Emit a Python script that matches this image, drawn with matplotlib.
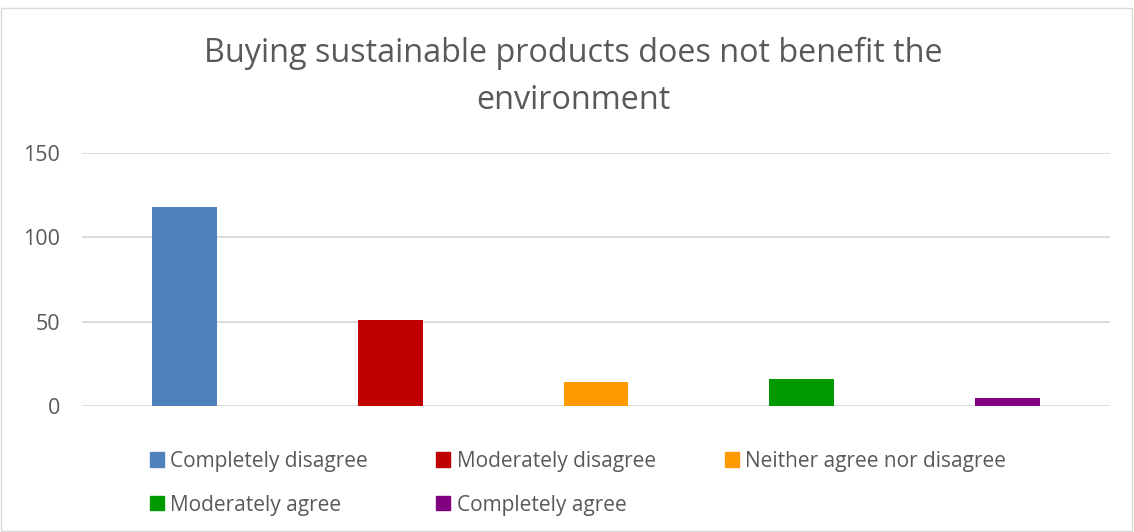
import matplotlib
matplotlib.use("Agg")
import matplotlib.pyplot as plt
from matplotlib.patches import Patch, Rectangle

categories = ["Completely disagree", "Moderately disagree", "Neither agree nor disagree",
              "Moderately agree", "Completely agree"]
values = [118, 51, 14, 16, 5]
colors = ["#4f81bd", "#c00000", "#ff9900", "#009900", "#800080"]
yticks = [0, 50, 100, 150]

plt.rcParams['font.family'] = ['Open Sans', 'DejaVu Sans']
txt = "#595959"

fig = plt.figure(figsize=(11.34, 5.32), dpi=100)
ax = fig.add_axes([82/1134, 126/532, 1028/1134, 253/532])

x = list(range(len(values)))
ax.bar(x, values, width=0.316, color=colors, zorder=3)
ax.set_xlim(-0.5, 4.5)
ax.set_ylim(0, 150)
ax.set_yticks(yticks)
ax.set_xticks([])
ax.grid(axis='y', color="#d9d9d9", linewidth=1.3, zorder=0)
for s in ax.spines.values():
    s.set_visible(False)
ax.tick_params(axis='y', length=0, pad=16, labelsize=15.5, labelcolor=txt)

fig.text(573/1134, 1 - 77/532, "Buying sustainable products does not benefit the\nenvironment",
         ha='center', va='center', fontsize=23.3, color=txt, linespacing=1.55)

handles = [Patch(color=c, label=l) for c, l in zip(colors, categories)]
order = [0, 3, 1, 4, 2]
leg = fig.legend([handles[i] for i in order], [categories[i] for i in order],
                 ncol=3, loc='upper left', bbox_to_anchor=(131/1134, 1 - 432/532),
                 frameon=False, fontsize=15, handlelength=0.67, handleheight=0.67,
                 handletextpad=0.3, columnspacing=3.3, labelspacing=1.1)
for t in leg.get_texts():
    t.set_color(txt)

fig.patches.append(Rectangle((1/1134, 1/532), 1131/1134, 523/532, transform=fig.transFigure,
                             fill=False, edgecolor="#d9d9d9", linewidth=1))

fig.savefig("out.png", dpi=100)
